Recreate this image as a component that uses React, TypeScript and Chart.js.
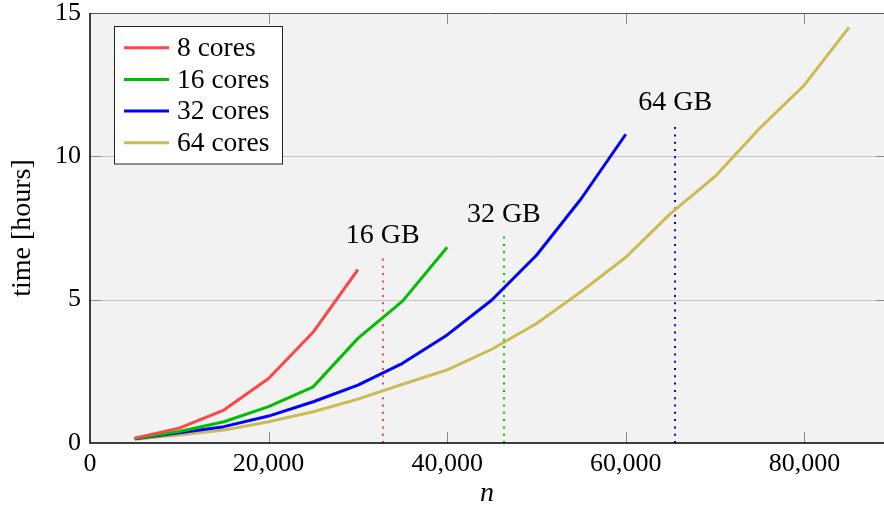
import React, { useEffect, useRef } from 'react';
import { Chart, registerables } from 'chart.js';

Chart.register(...registerables);

const nValues = [5000, 10000, 15000, 20000, 25000, 30000, 35000, 40000, 45000, 50000, 55000, 60000, 65000, 70000, 75000, 80000, 85000];
const cores8 = [0.17, 0.52, 1.15, 2.25, 3.87, 6.05];
const cores16 = [0.16, 0.4, 0.74, 1.27, 1.96, 3.65, 4.95, 6.83];
const cores32 = [0.15, 0.36, 0.57, 0.94, 1.44, 2.02, 2.78, 3.77, 4.99, 6.55, 8.52, 10.77];
const cores64 = [0.13, 0.28, 0.45, 0.74, 1.09, 1.53, 2.05, 2.55, 3.27, 4.17, 5.28, 6.48, 8.0, 9.3, 10.98, 12.49, 14.5];

const seriesLabels = ['8 cores', '16 cores', '32 cores', '64 cores'];
const seriesValues = [cores8, cores16, cores32, cores64];
const seriesColors = ['#ff4646', '#00bf00', '#0000ff', '#c9bc52'];

const memLabels = ['16 GB', '32 GB', '64 GB'];
const memN = [32768, 46341, 65536];
const memTop = [6.56, 7.3, 11.2];
const memColors = ['#ff4646', '#00bf00', '#0000ff'];

const xTicks = [0, 20000, 40000, 60000, 80000];
const yTicks = [0, 5, 10, 15];

const FONT = '"Liberation Serif", "DejaVu Serif", serif';

const framePlugin = {
  id: 'frame',
  beforeDatasetsDraw(chart: any) {
    const { ctx, chartArea: a, scales } = chart;
    const xs = scales.x;
    const ys = scales.y;
    ctx.save();
    ctx.fillStyle = '#f2f2f2';
    ctx.fillRect(a.left, a.top, a.right - a.left, a.bottom - a.top);
    ctx.strokeStyle = '#c4c4c4';
    ctx.lineWidth = 1;
    yTicks.forEach((v) => {
      if (v === 0 || v === 15) return;
      const y = Math.round(ys.getPixelForValue(v)) + 0.5;
      ctx.beginPath();
      ctx.moveTo(a.left, y);
      ctx.lineTo(a.right, y);
      ctx.stroke();
    });
    ctx.strokeStyle = '#8a8a8a';
    const tl = 11;
    xTicks.forEach((v) => {
      if (v === 0) return;
      const x = Math.round(xs.getPixelForValue(v)) + 0.5;
      ctx.beginPath();
      ctx.moveTo(x, a.bottom);
      ctx.lineTo(x, a.bottom - tl);
      ctx.moveTo(x, a.top);
      ctx.lineTo(x, a.top + tl);
      ctx.stroke();
    });
    yTicks.forEach((v) => {
      if (v === 0 || v === 15) return;
      const y = Math.round(ys.getPixelForValue(v)) + 0.5;
      ctx.beginPath();
      ctx.moveTo(a.left, y);
      ctx.lineTo(a.left + tl, y);
      ctx.moveTo(a.right, y);
      ctx.lineTo(a.right - tl, y);
      ctx.stroke();
    });
    ctx.lineWidth = 2;
    ctx.setLineDash([2, 5.3]);
    memN.forEach((n, i) => {
      const x = Math.round(xs.getPixelForValue(n));
      ctx.strokeStyle = memColors[i];
      ctx.beginPath();
      ctx.moveTo(x, a.bottom);
      ctx.lineTo(x, ys.getPixelForValue(memTop[i]));
      ctx.stroke();
    });
    ctx.setLineDash([]);
    ctx.fillStyle = '#000';
    ctx.font = `28px ${FONT}`;
    ctx.textAlign = 'center';
    ctx.textBaseline = 'middle';
    memN.forEach((n, i) => {
      const x = xs.getPixelForValue(n);
      const y = ys.getPixelForValue(memTop[i]) - 19;
      ctx.fillText(memLabels[i], x, y);
    });
    ctx.restore();
  },
  afterDatasetsDraw(chart: any) {
    const { ctx, chartArea: a } = chart;
    ctx.save();
    ctx.strokeStyle = '#555';
    ctx.lineWidth = 1;
    ctx.beginPath();
    ctx.moveTo(a.left, a.top + 0.5);
    ctx.lineTo(a.right, a.top + 0.5);
    ctx.moveTo(a.right - 0.5, a.top);
    ctx.lineTo(a.right - 0.5, a.bottom);
    ctx.stroke();
    ctx.strokeStyle = '#000';
    ctx.lineWidth = 1.5;
    ctx.beginPath();
    ctx.moveTo(a.left, a.top);
    ctx.lineTo(a.left, a.bottom);
    ctx.lineTo(a.right, a.bottom);
    ctx.stroke();
    const bx = 114.5, by = 26.5, bw = 168, bh = 137.5;
    ctx.fillStyle = '#fff';
    ctx.fillRect(bx, by, bw, bh);
    ctx.strokeStyle = '#222';
    ctx.lineWidth = 1;
    ctx.strokeRect(bx, by, bw, bh);
    ctx.font = `27.5px ${FONT}`;
    ctx.textAlign = 'left';
    ctx.textBaseline = 'middle';
    seriesLabels.forEach((lab, i) => {
      const y = 47.7 + i * 31.7;
      ctx.strokeStyle = seriesColors[i];
      ctx.lineWidth = 3;
      ctx.beginPath();
      ctx.moveTo(124, y);
      ctx.lineTo(169, y);
      ctx.stroke();
      ctx.fillStyle = '#000';
      ctx.fillText(lab, 177, y + 1);
    });
    ctx.fillStyle = '#000';
    ctx.textAlign = 'center';
    ctx.textBaseline = 'middle';
    ctx.font = `italic 28px ${FONT}`;
    ctx.fillText('n', 487, 494);
    ctx.save();
    ctx.translate(23, (a.top + a.bottom) / 2);
    ctx.rotate(-Math.PI / 2);
    ctx.font = `28px ${FONT}`;
    ctx.fillText('time [hours]', 0, 0);
    ctx.restore();
    ctx.restore();
  },
};

export default function App() {
  const ref = useRef<HTMLCanvasElement | null>(null);
  useEffect(() => {
    if (!ref.current) return;
    const datasets = seriesValues.map((vals, i) => ({
      label: seriesLabels[i],
      data: vals.map((v, j) => ({ x: nValues[j], y: v })),
      borderColor: seriesColors[i],
      backgroundColor: seriesColors[i],
      borderWidth: 3,
      pointRadius: 0,
      tension: 0,
      fill: false,
      borderJoinStyle: 'round' as const,
    }));
    const chart = new Chart(ref.current, {
      type: 'line',
      data: { datasets },
      options: {
        animation: false,
        responsive: false,
        devicePixelRatio: 1,
        layout: { padding: { top: 13, right: 3, left: 0, bottom: 0 } },
        plugins: { legend: { display: false }, tooltip: { enabled: false } },
        scales: {
          x: {
            type: 'linear',
            min: 0,
            max: 89250,
            grid: { display: false, drawTicks: false },
            border: { display: false },
            afterBuildTicks: (s: any) => {
              s.ticks = xTicks.map((v) => ({ value: v }));
            },
            afterFit: (s: any) => {
              s.height = 65;
              s.paddingLeft = 0;
              s.paddingRight = 0;
            },
            ticks: {
              color: '#000',
              padding: 6,
              maxRotation: 0,
              font: { family: FONT, size: 26 },
              callback: (v: any) => Number(v).toLocaleString('en-US'),
            },
          },
          y: {
            type: 'linear',
            min: 0,
            max: 15,
            grid: { display: false, drawTicks: false },
            border: { display: false },
            afterBuildTicks: (s: any) => {
              s.ticks = yTicks.map((v) => ({ value: v }));
            },
            afterFit: (s: any) => {
              s.width = 90;
              s.paddingTop = 0;
              s.paddingBottom = 0;
            },
            ticks: {
              color: '#000',
              padding: 9,
              font: { family: FONT, size: 26 },
              callback: (v: any) => String(v),
            },
          },
        },
      },
      plugins: [framePlugin],
    });
    return () => chart.destroy();
  }, []);
  return (
    <div style={{ position: 'absolute', left: 0, top: 0, width: 884, height: 508, overflow: 'hidden', background: '#fff' }}>
      <canvas ref={ref} width={890} height={508} style={{ display: 'block' }} />
    </div>
  );
}
